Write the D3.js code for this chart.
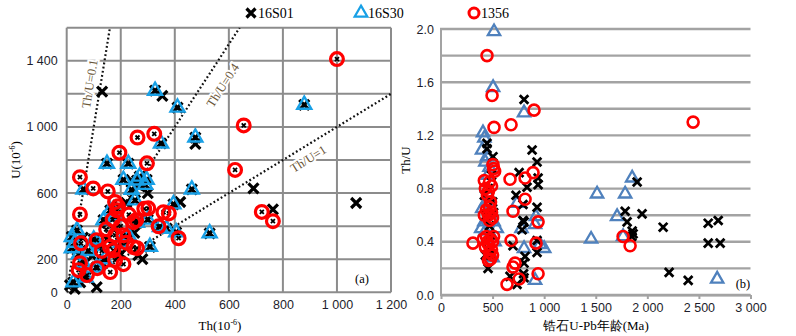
<!DOCTYPE html>
<html lang="en">
<head>
<meta charset="UTF-8">
<title>Th-U and Th/U vs age</title>
<style>
    body { margin: 0; background: #fff; }
    svg { display: block; font-family: "Liberation Serif", "DejaVu Serif", serif; }
    .grid line { stroke: #8c8c8c; stroke-width: 2; }
    .axis text { font-size: 12.5px; fill: #1d1d2b; }
    .axis path, .axis line { stroke: #a3a3a3; stroke-width: 2; }
    .ratio { fill: none; stroke: #111; stroke-width: 2.2; stroke-dasharray: 1.8,2.4; }
    .ratio-label { font-size: 12.5px; fill: #6a5536; stroke: #fff; stroke-width: 4; paint-order: stroke; }
</style>
</head>
<body>
<svg id="chart" width="796" height="336"></svg>
<script src="https://d3js.org/d3.v7.min.js"></script>
<script>
// ---- panel (a): Th vs U (10^-6) ----
const thU_16S01 = [
    [131,1213],[354,1188],[476,898],[691,628],[1071,540],[763,502],[420,546],[240,676],
    [265,225],[111,32],[12,44],[30,20],[50,60],[200,230],[280,200],[150,420],[220,540],
    [175,380],[95,220],[300,600],[270,640],[130,180],[60,330],[250,360],[150,320],[190,260]
];
const thU_16S30 = [
    [327,1219],[410,1117],[476,936],[349,900],[879,1134],[149,778],[228,778],[62,622],
    [260,676],[296,680],[290,650],[270,700],[463,622],[395,532],[529,357],[370,385],
    [405,363],[308,275],[19,335],[19,267],[38,375],[136,436],[161,496],[253,556],
    [345,395],[30,300],[45,230],[60,180],[80,250],[100,320],[120,280],[140,200],
    [110,150],[70,90],[25,60],[230,340],[200,300],[180,460],[260,420],[300,440],
    [210,680],[240,620]
];
const thU_1356 = [
    [1000,1410],[655,1009],[262,936],[324,958],[195,844],[297,780],[623,740],[49,696],
    [98,628],[152,610],[722,486],[763,430],[414,327],[358,484],[378,477],[302,508],
    [287,505],[340,399],[49,471],[53,296],[179,546],[186,496],[257,436],[247,424],
    [146,381],[210,345],[179,345],[111,315],[160,275],[172,254],[247,273],[260,267],
    [210,170],[161,122],[113,146],[49,176],[44,134],[75,104],[179,195],[200,400],
    [220,300],[130,250],[190,520],[230,470],[170,440]
];
const ratioLines = [0.1, 0.4, 1];
const thTicks = [0, 200, 400, 600, 800, 1000, 1200];
const uTicks = [0, 200, 600, 1000, 1400];

// ---- panel (b): zircon U-Pb age (Ma) vs Th/U ----
const age_16S01 = [
    [805,1.47],[883,1.09],[931,1.00],[446,1.14],[446,1.10],[504,1.04],[1901,0.85],[1785,0.63],
    [1804,0.55],[1949,0.61],[2153,0.51],[1853,0.48],[1862,0.46],[1850,0.44],[2590,0.54],
    [2687,0.56],[2590,0.39],[2706,0.39],[2211,0.17],[2396,0.11],[456,0.20],[757,0.92],
    [941,0.88],[941,0.83],[834,0.81],[727,0.75],[795,0.68],[931,0.66],[795,0.56],[805,0.55],
    [786,0.49],[931,0.41],[931,0.32],[815,0.29],[805,0.24],[698,0.37],[669,0.14],[737,0.08],
    [805,0.13],[800,0.16],[430,0.30],[450,0.35],[480,0.45],[470,0.52],[440,0.60],[500,0.70],
    [460,0.80],[490,0.90],[510,0.62],[420,0.75],[480,0.30]
];
const age_16S30 = [
    [514,1.98],[505,1.56],[805,1.37],[407,1.22],[420,1.18],[398,1.09],[446,1.04],[430,1.00],
    [470,0.96],[455,0.90],[1853,0.88],[1513,0.76],[1785,0.76],[1707,0.59],[1455,0.42],
    [1765,0.44],[2677,0.12],[805,0.35],[1000,0.35],[912,0.11],[912,0.53],[920,0.59],
    [737,0.69],[400,0.65],[420,0.55],[390,0.50],[430,0.48],[540,0.50],[510,0.55],[470,0.30],
    [500,0.28],[440,0.70],[460,0.75],[520,0.40],[960,0.38],[780,0.50]
];
const age_1356 = [
    [446,1.80],[495,1.50],[902,1.39],[514,1.26],[679,1.28],[2444,1.30],[504,0.98],[1765,0.44],
    [1833,0.37],[310,0.39],[679,0.41],[669,0.87],[815,0.88],[892,0.92],[815,0.72],[698,0.63],
    [941,0.55],[921,0.39],[718,0.24],[698,0.21],[941,0.16],[640,0.08],[757,0.12],
    [510,0.95],[520,0.93],[420,0.86],[470,0.85],[430,0.80],[490,0.82],[460,0.78],[450,0.75],
    [480,0.70],[470,0.66],[440,0.64],[490,0.62],[460,0.60],[420,0.60],[500,0.58],[470,0.56],
    [410,0.42],[440,0.44],[480,0.42],[500,0.40],[460,0.38],[430,0.36],[490,0.34],[470,0.32],
    [500,0.30],[480,0.27],[460,0.26],[510,0.44],[450,0.40]
];
const ageTicks = [0, 500, 1000, 1500, 2000, 2500, 3000];
const ratioTicks = [0, 0.4, 0.8, 1.2, 1.6, 2.0];
const ratioGrid = [0, 0.2, 0.4, 0.6, 0.8, 1.0, 1.2, 1.4, 1.6, 1.8, 2.0];

const svg = d3.select('#chart');
const spaced = v => d3.format(',')(v).replace(/,/g, ' ');

// marker helpers
function cross(g, pts, x, y, half, color, width) {
    g.selectAll(null).data(pts).enter().append('path')
        .attr('d', d => {
            const cx = x(d[0]), cy = y(d[1]);
            return `M${cx-half},${cy-half}L${cx+half},${cy+half}M${cx-half},${cy+half}L${cx+half},${cy-half}`;
        })
        .attr('stroke', color).attr('stroke-width', width).attr('fill', 'none');
}
function tri(g, pts, x, y, size, color, width) {
    g.selectAll(null).data(pts).enter().append('path')
        .attr('transform', d => `translate(${x(d[0])},${y(d[1])})`)
        .attr('d', d3.symbol(d3.symbolTriangle, size))
        .attr('stroke', color).attr('stroke-width', width).attr('fill', 'none');
}
function ring(g, pts, x, y, r, color, width) {
    g.selectAll(null).data(pts).enter().append('circle')
        .attr('cx', d => x(d[0])).attr('cy', d => y(d[1])).attr('r', r)
        .attr('stroke', color).attr('stroke-width', width).attr('fill', 'none');
}

// ---------- panel (a) ----------
const xL = d3.scaleLinear([0, 1200], [66.7, 391]);
const yL = d3.scaleLinear([0, 1600], [292.3, 27.7]);

const gridA = svg.append('g').attr('class', 'grid');
gridA.selectAll(null).data(d3.range(0, 1201, 200)).enter().append('line')
    .attr('x1', d => xL(d)).attr('x2', d => xL(d)).attr('y1', yL(0)).attr('y2', yL(1600));
gridA.selectAll(null).data(d3.range(0, 1601, 200)).enter().append('line')
    .attr('y1', d => yL(d)).attr('y2', d => yL(d)).attr('x1', xL(0)).attr('x2', xL(1200));

svg.append('g').attr('class', 'axis')
    .attr('transform', `translate(${xL(0)},0)`)
    .call(d3.axisLeft(yL).tickValues(uTicks).tickSize(0).tickPadding(9).tickFormat(spaced))
    .call(g => g.select('.domain').remove());
svg.append('g').attr('class', 'axis')
    .attr('transform', `translate(0,${yL(0)})`)
    .call(d3.axisBottom(xL).tickValues(thTicks).tickSize(0).tickPadding(8).tickFormat(spaced))
    .call(g => g.select('.domain').remove());

svg.append('clipPath').attr('id', 'clipA').append('rect')
    .attr('x', xL(0)).attr('y', yL(1600)).attr('width', xL(1200) - xL(0)).attr('height', yL(0) - yL(1600));

const linesA = svg.append('g').attr('clip-path', 'url(#clipA)');
linesA.selectAll(null).data(ratioLines).enter().append('line')
    .attr('class', 'ratio')
    .attr('x1', xL(0)).attr('y1', yL(0))
    .attr('x2', r => xL(1600 * r)).attr('y2', yL(1600));

// labels along the ratio lines
const lineLabels = [
    { text: 'Th/U=0.1', x: 91, y: 84, a: -81 },
    { text: 'Th/U=0.4', x: 224, y: 86, a: -57 },
    { text: 'Th/U=1', x: 309, y: 160, a: -32 }
];
svg.selectAll(null).data(lineLabels).enter().append('text')
    .attr('class', 'ratio-label')
    .attr('text-anchor', 'middle').attr('dominant-baseline', 'middle')
    .attr('transform', d => `translate(${d.x},${d.y}) rotate(${d.a})`)
    .text(d => d.text);

const ptsA = svg.append('g');
cross(ptsA, thU_16S01.concat(thU_16S30), xL, yL, 5, '#000', 3.2);
tri(ptsA, thU_16S30, xL, yL, 85, '#18a0e6', 2.4);
cross(ptsA, thU_1356, xL, yL, 2, '#000', 1.8);
ring(ptsA, thU_1356, xL, yL, 6.4, '#ff0000', 3.2);

svg.append('text').attr('x', 362).attr('y', 283).attr('text-anchor', 'middle')
    .style('font-size', '12.5px').text('(a)');

// axis titles (a)
const uTitle = svg.append('text').attr('transform', 'translate(20,160) rotate(-90)')
    .attr('text-anchor', 'middle').style('font-size', '13px');
uTitle.append('tspan').text('U(10');
uTitle.append('tspan').attr('dy', -5).style('font-size', '8px').text('-6');
uTitle.append('tspan').attr('dy', 5).text(')');

const thTitle = svg.append('text').attr('x', 220).attr('y', 330)
    .attr('text-anchor', 'middle').style('font-size', '13px');
thTitle.append('tspan').text('Th(10');
thTitle.append('tspan').attr('dy', -5).style('font-size', '8px').text('-6');
thTitle.append('tspan').attr('dy', 5).text(')');

// ---------- panel (b) ----------
const xR = d3.scaleLinear([0, 3000], [441, 750.5]);
const yR = d3.scaleLinear([0, 2], [295, 29]);

svg.append('g').attr('class', 'grid')
    .selectAll(null).data(ratioGrid).enter().append('line')
    .attr('x1', xR(0) - 1).attr('x2', xR(3000))
    .attr('y1', d => yR(d)).attr('y2', d => yR(d))
    .style('stroke', '#a3a3a3').style('stroke-width', 2.4);

svg.append('g').attr('class', 'axis')
    .attr('transform', `translate(${xR(0)},0)`)
    .call(d3.axisLeft(yR).tickValues(ratioTicks).tickSize(0).tickPadding(7).tickFormat(d3.format('.1f')))
    .call(g => g.select('.domain').attr('d', `M0,${yR(2)}V${yR(0)}`));
svg.append('g').attr('class', 'axis')
    .attr('transform', `translate(0,${yR(0)})`)
    .call(d3.axisBottom(xR).tickValues(ageTicks).tickSizeInner(4).tickSizeOuter(0).tickPadding(4).tickFormat(spaced));

const ptsB = svg.append('g');
tri(ptsB, age_16S30, xR, yR, 66, '#4f81bd', 2.3);
cross(ptsB, age_16S01, xR, yR, 4.3, '#000', 2.8);
ring(ptsB, age_1356, xR, yR, 5.5, '#ff0000', 2.6);

svg.append('text').attr('x', 743).attr('y', 288).attr('text-anchor', 'middle')
    .style('font-size', '12.5px').text('(b)');

svg.append('text').attr('transform', 'translate(410,160) rotate(-90)')
    .attr('text-anchor', 'middle').style('font-size', '13px').text('Th/U');
svg.append('text').attr('x', 596).attr('y', 330).attr('text-anchor', 'middle')
    .style('font-size', '13px').text('锆石U-Pb年龄(Ma)');

// ---------- legend ----------
const legend = [
    { name: '16S01', x: 251, kind: 'x' },
    { name: '16S30', x: 361, kind: 't' },
    { name: '1356', x: 474, kind: 'o' }
];
const lg = svg.append('g');
legend.forEach(l => {
    const p = [[l.x, 13]];
    const id = d3.scaleIdentity();
    if (l.kind === 'x') cross(lg, p, id, id, 4.5, '#000', 3.2);
    if (l.kind === 't') tri(lg, p, id, id, 70, '#18a0e6', 2.2);
    if (l.kind === 'o') ring(lg, p, id, id, 5, '#ff0000', 3);
    lg.append('text').attr('x', l.x + 7).attr('y', 18).style('font-size', '14px').text(l.name);
});
</script>
</body>
</html>
